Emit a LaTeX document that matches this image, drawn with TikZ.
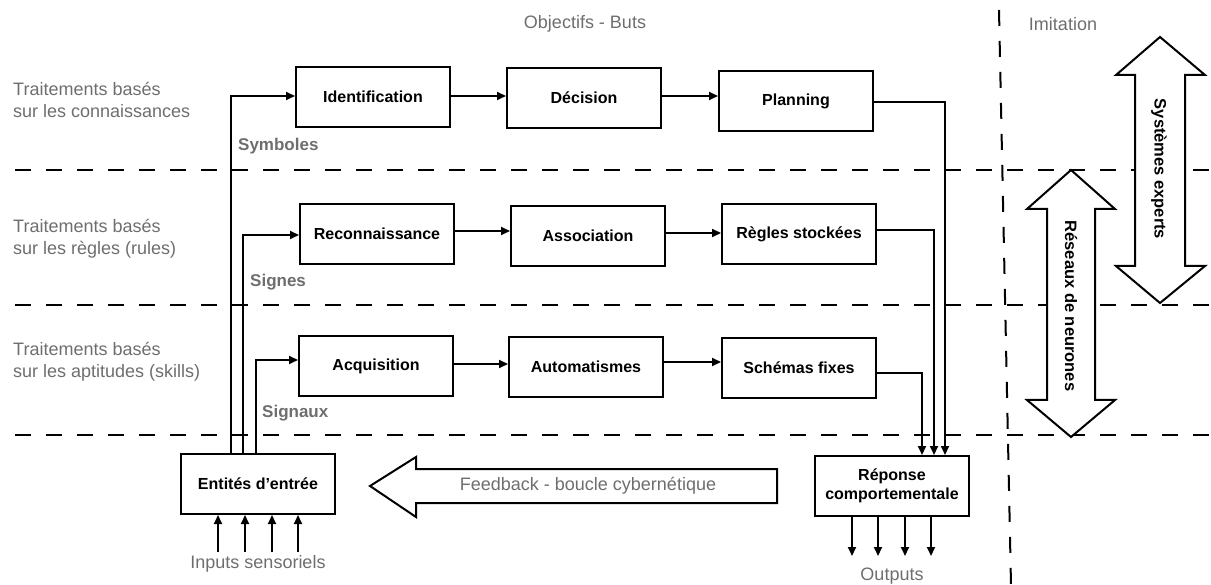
\documentclass[tikz,border=0pt]{standalone}
\usepackage{fontspec}
\setmainfont{Liberation Sans}
\usetikzlibrary{arrows.meta,calc}
\definecolor{lblgray}{HTML}{6E6E6E}
\tikzset{
  box/.style={draw=black, line width=2pt, fill=white, minimum width=154pt, minimum height=60pt, inner sep=0pt, align=center, font=\fontsize{16}{19}\selectfont\bfseries},
  arr/.style={line width=2pt, -{Triangle[length=9pt,width=8pt]}},
  sep/.style={line width=2pt, dash pattern=on 16pt off 15pt},
  glabel/.style={text=lblgray, inner sep=0pt, font=\fontsize{18}{22}\selectfont},
  gblabel/.style={text=lblgray, inner sep=0pt, font=\fontsize{17}{22}\selectfont\bfseries},
  bigarrow/.style={draw=black, line width=2pt, fill=white, line join=miter},
  vlabel/.style={inner sep=0pt, rotate=-90, font=\fontsize{16.5}{19}\selectfont\bfseries}
}
\begin{document}
\begin{tikzpicture}[x=1pt,y=-1pt]
\useasboundingbox (0,0) rectangle (1211,585);
% separators
\draw[sep] (15,170) -- (1211,170);
\draw[sep] (15,305) -- (1211,305);
\draw[sep] (15,435) -- (1211,435);
\draw[sep] (999,10) -- (1011,585);
% double arrows
\draw[bigarrow] (1160,37) -- (1205,75) -- (1185,75) -- (1185,266) -- (1205,266) -- (1160,303) -- (1116,266) -- (1135,266) -- (1135,75) -- (1116,75) -- cycle;
\node[vlabel] (sysexp) at (1159,169) {Systèmes experts};
\draw[bigarrow] (1071,170) -- (1115,209) -- (1095,209) -- (1095,400) -- (1115,400) -- (1071,437) -- (1027,400) -- (1047,400) -- (1047,209) -- (1027,209) -- cycle;
\node[vlabel] (resneu) at (1071,306) {Réseaux de neurones};
% feedback arrow
\draw[bigarrow] (370,486) -- (416,457) -- (416,469) -- (777,469) -- (777,503) -- (416,503) -- (416,517) -- cycle;
\node[glabel] (fb) at (588,486) {Feedback - boucle cybernétique};
% headings
\node[glabel] (obj) at (585,24) {Objectifs - Buts};
\node[glabel] (imit) at (1063,24) {Imitation};
\node[glabel, anchor=west, align=left] (lvl1) at (13,100) {Traitements basés\\sur les connaissances};
\node[glabel, anchor=west, align=left] (lvl2) at (13,239) {Traitements basés\\sur les règles (rules)};
\node[glabel, anchor=west, align=left] (lvl3) at (13,362) {Traitements basés\\sur les aptitudes (skills)};
% boxes
\node[box] (ident) at (373,97) {Identification};
\node[box] (dec) at (584,98) {Décision};
\node[box] (plan) at (796,101) {Planning};
\node[box] (recon) at (377,234) {Reconnaissance};
\node[box] (assoc) at (588,236) {Association};
\node[box] (regles) at (799,234) {Règles stockées};
\node[box] (acq) at (376,366) {Acquisition};
\node[box] (auto) at (586,367) {Automatismes};
\node[box] (schem) at (799,368) {Schémas fixes};
\node[box] (ent) at (258,484) {Entités d’entrée};
\node[box] (rep) at (892,486) {Réponse\\comportementale};
% row arrows
\draw[arr] ([yshift=1pt]ident.east) -- ([yshift=1pt]ident.east -| dec.west);
\draw[arr] ([yshift=2pt]dec.east) -- ([yshift=2pt]dec.east -| plan.west);
\draw[arr] ([yshift=3pt]recon.east) -- ([yshift=3pt]recon.east -| assoc.west);
\draw[arr] ([yshift=3pt]assoc.east) -- ([yshift=3pt]assoc.east -| regles.west);
\draw[arr] ([yshift=2pt]acq.east) -- ([yshift=2pt]acq.east -| auto.west);
\draw[arr] ([yshift=5pt]auto.east) -- ([yshift=5pt]auto.east -| schem.west);
% outputs to response
\draw[arr] ([yshift=-1pt]plan.east) -| ([xshift=53pt]rep.north);
\draw[arr] ([yshift=4pt]regles.east) -| ([xshift=42pt]rep.north);
\draw[arr] ([yshift=-5pt]schem.east) -| ([xshift=30pt]rep.north);
% from input entities
\draw[arr] ([xshift=-27pt]ent.north) |- ([yshift=1pt]ident.west);
\draw[arr] ([xshift=-15pt]ent.north) |- ([yshift=-1pt]recon.west);
\draw[arr] ([xshift=-2pt]ent.north) |- ([yshift=6pt]acq.west);
% channel labels
\node[gblabel, anchor=west] (symb) at (238,146) {Symboles};
\node[gblabel, anchor=west] (sign) at (250,282) {Signes};
\node[gblabel, anchor=west] (signx) at (262,413) {Signaux};
% inputs
\coordinate (in1) at (218,552);
\coordinate (in2) at (245,552);
\coordinate (in3) at (272,552);
\coordinate (in4) at (298,552);
\foreach \c in {in1,in2,in3,in4} \draw[arr] (\c) -- (\c |- ent.south);
\node[glabel] (inlbl) at (258,564) {Inputs sensoriels};
% outputs
\coordinate (out1) at (852,556);
\coordinate (out2) at (878,556);
\coordinate (out3) at (905,556);
\coordinate (out4) at (931,556);
\foreach \c in {out1,out2,out3,out4} \draw[arr] (\c |- rep.south) -- (\c);
\node[glabel] (outlbl) at (892,576) {Outputs};
\end{tikzpicture}
\end{document}
